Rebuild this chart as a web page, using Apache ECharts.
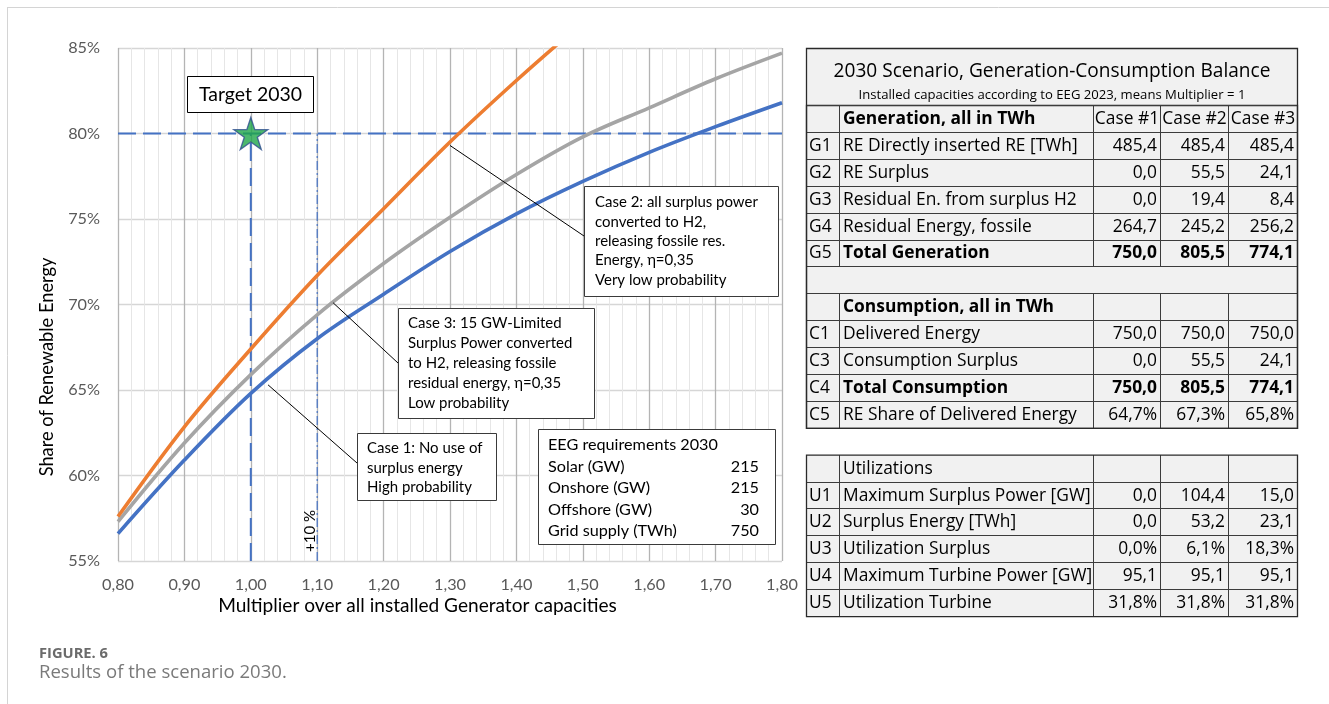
<!DOCTYPE html>
<html>
<head>
<meta charset="utf-8">
<script src="https://cdn.jsdelivr.net/npm/echarts@6/dist/echarts.min.js"></script>
<style>
html,body{margin:0;padding:0;background:#fff;}
#c{width:1329px;height:704px;}
</style>
</head>
<body>
<div id="c"></div>
<script>
// ---------- data ----------
const multiplier = [0.80, 0.90, 1.00, 1.10, 1.20, 1.30, 1.40, 1.50, 1.60, 1.70, 1.80];
const case1Share = [56.6, 60.9, 64.8, 68.0, 70.6, 73.1, 75.3, 77.2, 78.9, 80.4, 81.8]; // blue
const case3Share = [57.3, 61.9, 65.9, 69.4, 72.4, 75.1, 77.6, 79.8, 81.5, 83.2, 84.7]; // gray
const case2Share = [57.6, 62.85, 67.4, 71.7, 75.6, 79.5, 83.1, 86.5];                 // orange (clipped at 85)
const targetPoint = [1.00, 80];
const plus10Multiplier = 1.10;
const yMin = 55, yMax = 85, yStep = 5;
const xMin = 0.8, xMax = 1.8, xStep = 0.1;

const eegTitle = 'EEG requirements 2030';
const eegItems = ['Solar (GW)', 'Onshore (GW)', 'Offshore (GW)', 'Grid supply (TWh)'];
const eegValues = [215, 215, 30, 750];

const case1Text = ['Case 1: No use of', 'surplus energy', 'High probability'];
const case2Text = ['Case 2: all surplus power', 'converted to H2,', 'releasing fossile res.', 'Energy, \u03b7=0,35', 'Very low probability'];
const case3Text = ['Case 3: 15 GW-Limited', 'Surplus Power converted', 'to H2, releasing fossile', 'residual energy, \u03b7=0,35', 'Low probability'];

const tableTitle = '2030 Scenario, Generation-Consumption Balance';
const tableSubtitle = 'Installed capacities according to EEG 2023, means Multiplier = 1';
const caseHeaders = ['Case #1', 'Case #2', 'Case #3'];
const genHeader = 'Generation, all in TWh';
const genRows = [
  ['G1', 'RE Directly inserted RE [TWh]', '485,4', '485,4', '485,4'],
  ['G2', 'RE Surplus', '0,0', '55,5', '24,1'],
  ['G3', 'Residual En. from surplus H2', '0,0', '19,4', '8,4'],
  ['G4', 'Residual Energy, fossile', '264,7', '245,2', '256,2'],
  ['G5', 'Total Generation', '750,0', '805,5', '774,1']
];
const consHeader = 'Consumption, all in TWh';
const consRows = [
  ['C1', 'Delivered Energy', '750,0', '750,0', '750,0'],
  ['C3', 'Consumption Surplus', '0,0', '55,5', '24,1'],
  ['C4', 'Total Consumption', '750,0', '805,5', '774,1'],
  ['C5', 'RE Share of Delivered Energy', '64,7%', '67,3%', '65,8%']
];
const utilHeader = 'Utilizations';
const utilRows = [
  ['U1', 'Maximum Surplus Power [GW]', '0,0', '104,4', '15,0'],
  ['U2', 'Surplus Energy [TWh]', '0,0', '53,2', '23,1'],
  ['U3', 'Utilization Surplus', '0,0%', '6,1%', '18,3%'],
  ['U4', 'Maximum Turbine Power [GW]', '95,1', '95,1', '95,1'],
  ['U5', 'Utilization Turbine', '31,8%', '31,8%', '31,8%']
];
const boldRows = ['G5', 'C4'];

// ---------- font fitting (layout only) ----------
const mctx = document.createElement('canvas').getContext('2d');
function fit(text, family, target, weight) {
  mctx.font = (weight || 'normal') + ' 100px "' + family + '"';
  return 100 * target / mctx.measureText(text).width;
}
const FONT = 'Lato';
const TFONT = 'Open Sans';
const sTick = fit('0,80', FONT, 32);
const sXTitle = fit('Multiplier over all installed Generator capacities', FONT, 399);
const sYTitle = fit('Share of Renewable Energy', FONT, 219);
const sCall = fit('Case 2: all surplus power', FONT, 163);
const sEEG = fit('EEG requirements 2030', FONT, 170);
const sTarget = fit('Target 2030', FONT, 103);
const sPlus = fit('+10 %', FONT, 42);
const sTable = fit('RE Directly inserted RE [TWh]', TFONT, 235);
const sTTitle = fit(tableTitle, TFONT, 437);
const sTSub = fit(tableSubtitle, TFONT, 387);
const sCapBold = fit('FIGURE. 6', 'Open Sans', 69, 'bold');
const sCap = fit('Results of the scenario 2030.', 'Open Sans', 248);

// ---------- chart ----------
const chart = echarts.init(document.getElementById('c'), null, {renderer: 'canvas'});
const zip = (xs, ys) => ys.map((y, i) => [xs[i], y]);
const refStyle = {color: '#4472C4', width: 2, type: [18, 7]};

chart.setOption({
  animation: false,
  backgroundColor: '#ffffff',
  grid: {left: 118, top: 48, width: 664, height: 513, containLabel: false},
  xAxis: {
    type: 'value', min: xMin, max: xMax, interval: xStep,
    axisLine: {show: false}, axisTick: {show: false},
    axisLabel: {color: '#595959', fontFamily: FONT, fontSize: sTick, margin: 16,
      formatter: v => v.toFixed(2).replace('.', ',')},
    splitLine: {show: true, lineStyle: {color: '#b4b4b4', width: 1.3}},
    minorTick: {show: false, splitNumber: 5},
    minorSplitLine: {show: true, lineStyle: {color: '#e6e6e6', width: 1}}
  },
  yAxis: {
    type: 'value', min: yMin, max: yMax, interval: yStep,
    axisLine: {show: false}, axisTick: {show: false},
    axisLabel: {color: '#595959', fontFamily: FONT, fontSize: sTick, margin: 18,
      formatter: v => v + '%'},
    splitLine: {show: true, lineStyle: {color: '#d6d6d6', width: 1.3}}
  },
  series: [
    {type: 'line', data: [[xMin, targetPoint[1]], [xMax, targetPoint[1]]], symbol: 'none', silent: true,
     lineStyle: refStyle, z: 2},
    {type: 'line', data: [[targetPoint[0], yMin], targetPoint], symbol: 'none', silent: true,
     lineStyle: refStyle, z: 2},
    {type: 'line', data: [[plus10Multiplier, yMin], [plus10Multiplier, targetPoint[1]]], symbol: 'none', silent: true,
     lineStyle: {color: '#4472C4', width: 1.2, type: [9, 3, 2, 3]}, z: 2},
    {name: 'Case 1', type: 'line', data: zip(multiplier, case1Share), smooth: 0.35, symbol: 'none',
     lineStyle: {color: '#4472C4', width: 3.6}, z: 3},
    {name: 'Case 3', type: 'line', data: zip(multiplier, case3Share), smooth: 0.35, symbol: 'none',
     lineStyle: {color: '#A5A5A5', width: 3.6}, z: 3},
    {name: 'Case 2', type: 'line', data: zip(multiplier, case2Share), smooth: 0.35, symbol: 'none', clip: true,
     lineStyle: {color: '#ED7D31', width: 3.6}, z: 3},
    {name: 'Target 2030', type: 'scatter', data: [targetPoint],
     symbol: 'path://M50,0 L61.2,34.5 L97.6,34.5 L68.2,55.9 L79.4,90.5 L50,69.1 L20.6,90.5 L31.8,55.9 L2.4,34.5 L38.8,34.5 Z',
     symbolSize: [34, 32], itemStyle: {color: '#1FA64A', borderColor: '#2E4E8E', borderWidth: 1.3}, z: 5}
  ]
});

// ---------- annotations & table (graphic) ----------
const g = [];
const txt = (x, y, text, o = {}) => g.push({type: 'text', x, y, silent: true, z: 10, rotation: o.rotation || 0,
  style: {text, fill: o.fill || '#000', fontFamily: o.family || FONT, fontSize: o.size || 16,
    fontWeight: o.weight || 'normal', align: o.align || 'left', verticalAlign: 'middle'}});
const rect = (x, y, w, h, fill, stroke, lw) => g.push({type: 'rect', silent: true, z: 9,
  shape: {x, y, width: w, height: h}, style: {fill: fill, stroke: stroke || null, lineWidth: lw || 1}});
const line = (x1, y1, x2, y2, stroke, lw) => g.push({type: 'line', silent: true, z: 9,
  shape: {x1, y1, x2, y2}, style: {stroke, lineWidth: lw || 1}});

// figure frame
line(7, 7.5, 1329, 7.5, '#d4d4d4', 1);
line(7.5, 7, 7.5, 704, '#d4d4d4', 1);

// Target box
rect(187.5, 76.5, 126, 36, '#fff', '#000', 1);
txt(250.5, 95, 'Target 2030', {size: sTarget, align: 'center'});

// +10 %
txt(310, 531, '+10 %', {size: sPlus, align: 'center', rotation: Math.PI / 2});

// callouts
const px = (p) => chart.convertToPixel({gridIndex: 0}, p);
function callout(anchor, tip, box, lines, pad, firstY, step) {
  const a = px(anchor);
  line(a[0], a[1], tip[0], tip[1], '#000', 1);
  rect(box[0] + 0.5, box[1] + 0.5, box[2], box[3], '#fff', '#3a3a3a', 1);
  lines.forEach((t, i) => txt(box[0] + pad, firstY + i * step, t, {size: sCall}));
}
callout([1.30, 79.3], [584, 236], [584, 186, 194, 110], case2Text, 11, 202.5, 19.3);
callout([1.124, 70.1], [398, 363], [398, 308, 196, 110], case3Text, 10, 323.5, 20);
callout([1.026, 65.3], [357, 463], [357, 433, 139, 67], case1Text, 10, 448.5, 19.5);

// EEG box
rect(538.5, 429.5, 237, 115, '#fff', '#3a3a3a', 1);
txt(548, 445, eegTitle, {size: sEEG});
eegItems.forEach((t, i) => {
  txt(548, 466.8 + i * 21.4, t, {size: sEEG});
  txt(759, 466.8 + i * 21.4, String(eegValues[i]), {size: sEEG, align: 'right'});
});

// axis titles
txt(417.5, 606, 'Multiplier over all installed Generator capacities', {size: sXTitle, align: 'center'});
txt(47, 367, 'Share of Renewable Energy', {size: sYTitle, align: 'center', rotation: Math.PI / 2});

// caption
txt(39, 654, 'FIGURE. 6', {size: sCapBold, weight: 'bold', fill: '#6b6b6b', family: 'Open Sans'});
txt(39, 673, 'Results of the scenario 2030.', {size: sCap, fill: '#7a7a7a', family: 'Open Sans'});

// ---------- table ----------
const cols = [806, 839, 1093, 1160, 1228, 1297];
const RH = 26.9;
const tTop = 48, tHead = 105;
const LC = '#3c3c3c';

function drawBlock(top, rows) {
  const bottom = top + rows.length * RH;
  rect(cols[0] + 0.5, top + 0.5, cols[5] - cols[0], bottom - top, '#f1f1f1', null);
  rows.forEach((r, i) => {
    const y0 = top + i * RH, y1 = y0 + RH, ym = (y0 + y1) / 2 + 0.5;
    if (i > 0) line(cols[0], Math.round(y0) + 0.5, cols[5], Math.round(y0) + 0.5, LC, 1);
    if (r.type === 'blank') return;
    for (let c = 1; c < 5; c++) line(cols[c] + 0.5, Math.round(y0), cols[c] + 0.5, Math.round(y1), LC, 1);
    const cl = r.cells;
    const w = r.bold ? 'bold' : 'normal';
    if (cl[0]) txt(cols[0] + 3, ym, cl[0], {size: sTable, family: TFONT});
    if (cl[1]) txt(cols[1] + 4, ym, cl[1], {size: sTable, weight: r.labelBold || r.bold ? 'bold' : 'normal', family: TFONT});
    for (let k = 0; k < 3; k++) {
      if (!cl[k + 2]) continue;
      if (r.center) txt((cols[k + 2] + cols[k + 3]) / 2 + 0.5, ym, cl[k + 2], {size: sTable, align: 'center', family: TFONT});
      else txt(cols[k + 3] - 3, ym, cl[k + 2], {size: sTable, weight: w, align: 'right', family: TFONT});
    }
  });
  rect(cols[0] + 0.5, top + 0.5, cols[5] - cols[0], bottom - top, null, '#2a2a2a', 1.3);
  return bottom;
}

rect(cols[0] + 0.5, tTop + 0.5, cols[5] - cols[0], tHead - tTop, '#f1f1f1', null);
const block1 = [{type: 'row', cells: ['', genHeader].concat(caseHeaders), labelBold: true, center: true}]
  .concat(genRows.map(r => ({type: 'row', cells: r, bold: boldRows.includes(r[0])})))
  .concat([{type: 'blank'}])
  .concat([{type: 'row', cells: ['', consHeader, '', '', ''], labelBold: true}])
  .concat(consRows.map(r => ({type: 'row', cells: r, bold: boldRows.includes(r[0])})));
const b1 = drawBlock(tHead, block1);
line(cols[0], tHead + 0.5, cols[5], tHead + 0.5, LC, 1);
rect(cols[0] + 0.5, tTop + 0.5, cols[5] - cols[0], b1 - tTop, null, '#2a2a2a', 1.3);
txt((cols[0] + cols[5]) / 2 + 0.5, 72, tableTitle, {size: sTTitle, align: 'center', family: TFONT});
txt((cols[0] + cols[5]) / 2 + 0.5, 95.5, tableSubtitle, {size: sTSub, align: 'center', family: TFONT});

const block2 = [{type: 'row', cells: ['', utilHeader, '', '', '']}]
  .concat(utilRows.map(r => ({type: 'row', cells: r})));
drawBlock(b1 + RH, block2);

chart.setOption({graphic: {elements: g}});
</script>
</body>
</html>
